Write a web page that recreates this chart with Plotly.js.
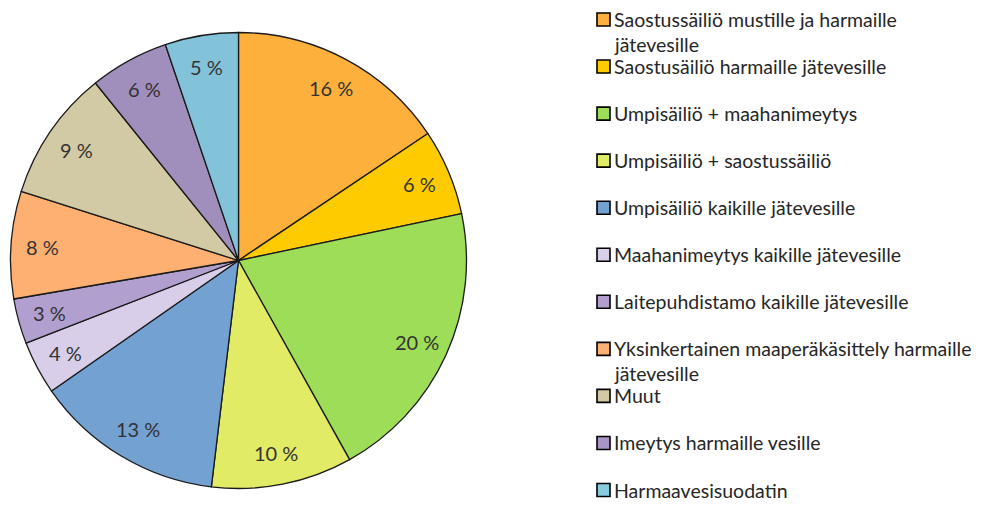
<!DOCTYPE html>
<html><head><meta charset="utf-8">
<script src="https://cdn.plot.ly/plotly-3.0.1.min.js"></script>
<style>html,body{margin:0;padding:0;background:#fff;overflow:hidden}</style>
</head><body><div id="chart" style="width:985px;height:506px"></div>
<script>
const categories = [
  "Saostussäiliö mustille ja harmaille<br>jätevesille",
  "Saostusäiliö harmaille jätevesille",
  "Umpisäiliö + maahanimeytys",
  "Umpisäiliö + saostussäiliö",
  "Umpisäiliö kaikille jätevesille",
  "Maahanimeytys kaikille jätevesille",
  "Laitepuhdistamo kaikille jätevesille",
  "Yksinkertainen maaperäkäsittely harmaille<br>jätevesille",
  "Muut",
  "Imeytys harmaille vesille",
  "Harmaavesisuodatin"
];
const shares = [15.6, 6.1, 20.2, 10.0, 13.4, 3.8, 3.2, 7.6, 9.3, 5.6, 5.2];
const sliceColors = ["#FDB13C", "#FECB00", "#9DDD57", "#E1EB66", "#73A1D2", "#D8CEE9",
                     "#B1A0CF", "#FEB073", "#D1CAA4", "#A08EBD", "#82C3DA"];
const legendColors = ["#FDB13C", "#FECB00", "#9DDD57", "#E1EB66", "#73A1D2", "#D8CEE9",
                      "#B1A0CF", "#FEB073", "#D1CAA4", "#A895C5", "#88CCE2"];
const sliceLabels = shares.map(v => Math.round(v) + " %");

const W = 985, H = 506;
const cx = 238.5, cy = 260.5, R = 228;
const labelR = 0.86 * R;

const total = shares.reduce((a, b) => a + b, 0);
const annotations = [];
const shapes = [];
let cum = 0;
shares.forEach((v, i) => {
  const th = 2 * Math.PI * (cum + v / 2) / total;
  cum += v;
  const px = cx + labelR * Math.sin(th);
  const py = cy - labelR * Math.cos(th);
  annotations.push({
    xref: "paper", yref: "paper", x: px / W, y: 1 - py / H,
    xanchor: "center", yanchor: "middle", showarrow: false,
    text: sliceLabels[i], font: {family: "Lato, sans-serif", size: 20, color: "#333333"}
  });
});

// legend
const legTop = 19.5, legStep = 47.05, lineGap = 25;
categories.forEach((c, i) => {
  const yc = legTop + legStep * i;
  shapes.push({
    type: "rect", xref: "paper", yref: "paper",
    x0: 597 / W, x1: 610 / W, y0: 1 - (yc - 6.5) / H, y1: 1 - (yc + 6.5) / H,
    fillcolor: legendColors[i], line: {color: "#000000", width: 1.6}
  });
  c.split("<br>").forEach((ln, k) => {
    annotations.push({
      xref: "paper", yref: "paper", x: 612 / W, y: 1 - (yc + lineGap * k) / H,
      xanchor: "left", yanchor: "middle", showarrow: false, align: "left",
      text: ln, font: {family: "Lato, sans-serif", size: 19.5, color: "#262626"}
    });
  });
});

const data = [{
  type: "pie",
  labels: categories,
  values: shares,
  sort: false,
  direction: "clockwise",
  rotation: 0,
  textinfo: "none",
  hoverinfo: "label+percent",
  marker: {colors: sliceColors, line: {color: "#1a1a1a", width: 1.3}},
  domain: {x: [(cx - R) / W, (cx + R) / W], y: [1 - (cy + R) / H, 1 - (cy - R) / H]}
}];

const layout = {
  width: W, height: H,
  margin: {l: 0, r: 0, t: 0, b: 0},
  paper_bgcolor: "#ffffff",
  showlegend: false,
  annotations: annotations,
  shapes: shapes,
  font: {family: "Lato, sans-serif"}
};
Plotly.newPlot("chart", data, layout, {staticPlot: true, displayModeBar: false});
</script>
</body></html>
